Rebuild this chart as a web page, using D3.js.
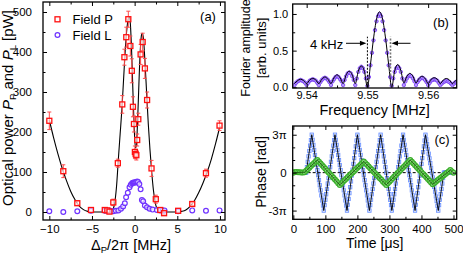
<!DOCTYPE html>
<html><head><meta charset="utf-8">
<script src="https://cdn.jsdelivr.net/npm/d3@7"></script>
<style>
body{margin:0;background:#fff}
text{font-family:"Liberation Sans",Arial,sans-serif}
</style></head><body>
<svg id="chart" width="463" height="255"></svg>
<script>
// ---------- Panel (a) data ----------
const fieldP_x   = [-10, -8.36, -6.72, -5.12, -3.5, -3.2, -2.95, -2.5, -1.97, -1.45, -1.2, -0.98, -0.74, -0.5, -0.33, -0.2, -0.08, 0.03, 0.12, 0.2, 0.3, 0.43, 0.7, 0.94, 1.2, 1.46, 1.98, 2.48, 3.0, 3.45, 5.1, 6.75, 8.36, 9.95];
const fieldP_y   = [228, 102, 22, 5, 5, 4, 1, 24, 122, 269, 387, 437, 482, 415, 353, 263, 220, 150, 145, 142, 180, 232, 394, 425, 359, 280, 109, 32, 5, -3, 3, 20, 97, 216];
const fieldP_err = [22, 16, 5, 4, 4, 3, 3, 8, 10, 22, 20, 25, 20, 25, 30, 25, 20, 15, 12, 12, 15, 15, 25, 22, 25, 20, 20, 10, 4, 4, 3, 4, 10, 12];
const fieldL_x = [-10, -8.36, -6.72, -5.12, -3.5, -3.2, -2.9, -2.5, -2.2, -1.9, -1.6, -1.35, -1.15, -1.0, -0.8, -0.6, -0.45, -0.3, -0.2, -0.1, 0.0, 0.1, 0.2, 0.3, 0.4, 0.55, 0.7, 0.85, 1.0, 1.2, 1.45, 1.75, 2.1, 2.6, 3.0, 3.3, 3.5, 5.1, 6.75, 8.36, 9.95];
const fieldL_y = [2, 0, 2, 3, 3, 4, 3, 2, 3, 4, 8, 14, 22, 37, 48, 62, 68, 72, 73, 74, 74, 74, 75, 76, 75, 70, 57, 30, 27, 16, 12, 8, 6, 5, 4, 4, 4, 2, 4, 3, 4];
const fitP_x = [-10, -9.5, -9, -8.5, -8, -7.5, -7, -6.5, -6, -5.5, -5, -4, -3, -2.7, -2.5, -2.3, -2.1, -1.9, -1.7, -1.5, -1.3, -1.1, -0.9, -0.75, -0.62, -0.5, -0.35, -0.2, -0.05, 0.1, 0.2, 0.35, 0.5, 0.65, 0.8, 0.9, 1.05, 1.2, 1.4, 1.6, 1.8, 2.0, 2.2, 2.4, 2.6, 2.8, 3.0, 4, 5, 5.5, 6, 6.5, 7, 7.5, 8, 8.5, 9, 9.5, 10];
const fitP_y = [230, 186, 146, 110, 79, 52, 31, 15, 6, 1.5, 0, 0, 0, 2, 8, 28, 70, 135, 195, 255, 330, 405, 460, 482, 488, 470, 400, 300, 210, 160, 165, 230, 320, 400, 442, 447, 430, 380, 300, 220, 155, 100, 55, 25, 9, 3, 0, 0, 0, 1.5, 5, 14, 28, 48, 72, 100, 133, 172, 215];
const aXTicks = [-10, -5, 0, 5, 10];
const aXMinor = [-7.5, -2.5, 2.5, 7.5];
const aYTicks = [0, 100, 200, 300, 400, 500];
const aYMinor = [50, 150, 250, 350, 450];

// ---------- Panel (b) data ----------
const fourierStart = 9.538, fourierStep = 0.00025;
const fourierAmp = [
 0.03,0.06,0.08,0.09,0.10,0.09,0.08,0.06,
 0.03,0.06,0.09,0.10,0.11,0.10,0.09,0.06,
 0.03,0.07,0.10,0.12,0.13,0.12,0.10,0.07,
 0.03,0.08,0.11,0.14,0.15,0.14,0.11,0.08,
 0.03,0.10,0.15,0.19,0.20,0.19,0.15,0.10,
 0.03,0.12,0.21,0.26,0.28,0.26,0.21,0.12,
 0.02,0.14,0.30,0.47,0.64,0.78,0.90,0.97,1.00,0.97,0.90,0.78,0.64,0.47,0.30,0.14,0.02,
 0.12,0.21,0.26,0.28,0.26,0.21,0.12,0.03,
 0.08,0.12,0.15,0.16,0.15,0.12,0.08,0.03,
 0.07,0.10,0.12,0.13,0.12,0.10,0.07,0.03,
 0.06,0.09,0.10,0.11,0.10,0.09,0.06,0.03,
 0.05,0.07,0.08,0.09,0.08,0.07,0.05,0.03,
 0.05,0.07,0.08,0.08];
const fitStart = 9.538, fitStep = 0.0005;
const fitAmp = [
 0.05,0.09,0.11,0.09, 0.05,0.10,0.12,0.10, 0.05,0.11,0.14,0.11, 0.05,0.13,0.17,0.13,
 0.05,0.17,0.22,0.17, 0.05,0.22,0.29,0.22,
 0.00,0.31,0.66,0.93,1.03,0.93,0.66,0.31,0.00,
 0.23,0.31,0.23,0.06, 0.15,0.19,0.15,0.06, 0.12,0.15,0.12,0.05, 0.11,0.13,0.11,0.05,
 0.10,0.12,0.10,0.05, 0.09,0.11];
const bXTicks = [9.54, 9.55, 9.56];
const bXMinor = [9.545, 9.555];
const bYTicks = [0, 0.5, 1.0];
const bYMinor = [0.25, 0.75];
const markerLeft = 9.5500, markerRight = 9.5538;

// ---------- Panel (c) data (phase in units of pi) ----------
const blueStart = 0, blueStep = 2.5;
const bluePhase = [
 0,0,0,0,0,0,0,0,0,0,0,0,0,0,0,0,0,
 0.43,0.86,1.29,1.71,2.14,2.57,3.00,
 2.6,2.2,1.8,1.4,1.0,0.6,0.2,-0.2,-0.6,-1.0,-1.4,-1.8,-2.2,-2.6,-3.0,
 -2.57,-2.14,-1.71,-1.29,-0.86,-0.43,0,0.43,0.86,1.29,1.71,2.14,2.57,3.0,
 2.6,2.2,1.8,1.4,1.0,0.6,0.2,-0.2,-0.6,-1.0,-1.4,-1.8,-2.2,-2.6,-3.0,
 -2.54,-2.08,-1.62,-1.15,-0.69,-0.23,0.23,0.69,1.15,1.62,2.08,2.54,3.0,
 2.6,2.2,1.8,1.4,1.0,0.6,0.2,-0.2,-0.6,-1.0,-1.4,-1.8,-2.2,-2.6,-3.0,
 -2.57,-2.14,-1.71,-1.29,-0.86,-0.43,0,0.43,0.86,1.29,1.71,2.14,2.57,3.0,
 2.57,2.14,1.71,1.29,0.86,0.43,0,-0.43,-0.86,-1.29,-1.71,-2.14,-2.57,-3.0,
 -2.57,-2.14,-1.71,-1.29,-0.86,-0.43,0,0.43,0.86,1.29,1.71,2.14,2.57,3.0,
 2.6,2.2,1.8,1.4,1.0,0.6,0.2,-0.2,-0.6,-1.0,-1.4,-1.8,-2.2,-2.6,-3.0,
 -2.54,-2.08,-1.62,-1.15,-0.69,-0.23,0.23,0.69,1.15,1.62,2.08,2.54,3.0,
 2.63,2.25,1.88,1.5,1.13,0.75,0.38,0,-0.38,-0.75,-1.13,-1.5,-1.88,-2.25,-2.63,-3.0,
 -2.57,-2.14,-1.71,-1.29,-0.86,-0.43,0,
 0,0,0,0,0,0,0,0,0,0,0,0];
const greenStart = 0, greenStep = 5;
const greenPhase = [
 0.0,0.05,0.06,0.04,0.03,0.02,0.02,0.03,
 0.15,0.27,0.39,0.52,0.64,0.76,0.88,1.0,
 0.86,0.72,0.58,0.44,0.30,0.16,0.02,-0.13,-0.27,-0.41,-0.55,-0.69,-0.83,-0.97,
 -0.85,-0.72,-0.60,-0.48,-0.35,-0.23,-0.11,0.02,0.14,0.26,0.39,0.51,0.63,0.76,0.88,
 0.75,0.62,0.48,0.35,0.22,0.09,-0.04,-0.18,-0.31,-0.44,-0.57,-0.71,-0.84,-0.97,
 -0.84,-0.71,-0.58,-0.44,-0.31,-0.18,-0.05,0.08,0.21,0.34,0.47,0.61,0.74,0.87,1.0,
 0.86,0.73,0.59,0.45,0.31,0.18,0.04,-0.10,-0.23,-0.37,-0.51,-0.65,-0.78,-0.92,
 -0.82,-0.72,-0.61,-0.51,-0.41,-0.31,-0.21,-0.10,0.0,0.10,0.2,
 0.1,0.0];
const blueLine_t = [0, 40, 57.5, 95, 130, 167.5, 200, 237.5, 272.5, 307.5, 342.5, 380, 412.5, 452.5, 470, 500];
const blueLine_v = [0, 0, 3, -3, 3, -3, 3, -3, 3, -3, 3, -3, 3, -3, 0, 0];
const greenLine_t = [0, 35, 75, 145, 220, 290, 365, 435, 490, 500];
const greenLine_v = [0, 0.03, 1, -0.97, 0.88, -0.97, 1, -0.92, 0.2, 0];
const cXTicks = [0, 100, 200, 300, 400, 500];
const cXMinor = [50, 150, 250, 350, 450];
const cYTicks = [-3, 0, 3];
const cYLabels = ["-3π", "0", "3π"];
const cYMinor = [-2, -1, 1, 2];

// ---------- drawing ----------
const svg = d3.select("#chart");
svg.append("rect").attr("width",463).attr("height",255).attr("fill","#fff");

function clean(fs){
  return function(sel){
    sel.select(".domain").remove();
    sel.attr("font-family",null).attr("font-size",fs);
    sel.selectAll("line").attr("stroke","#000").attr("stroke-width",1);
    sel.selectAll("text").attr("fill","#000");
  };
}
function axes(g, x, y, o){
  const [x0,x1]=x.range(), [y0,y1]=y.range();
  const c = clean(o.fs);
  g.append("g").attr("transform",`translate(0,${y0})`)
    .call(d3.axisBottom(x).tickValues(o.xMajor).tickSize(-4).tickPadding(o.xPad).tickFormat(o.xFmt)).call(c);
  g.append("g").attr("transform",`translate(0,${y0})`)
    .call(d3.axisBottom(x).tickValues(o.xMinor).tickSize(-2.5).tickFormat("")).call(c);
  g.append("g").attr("transform",`translate(0,${y1})`)
    .call(d3.axisTop(x).tickValues(o.xMajor).tickSize(-4).tickFormat("")).call(c);
  g.append("g").attr("transform",`translate(0,${y1})`)
    .call(d3.axisTop(x).tickValues(o.xMinor).tickSize(-2.5).tickFormat("")).call(c);
  g.append("g").attr("transform",`translate(${x0},0)`)
    .call(d3.axisLeft(y).tickValues(o.yMajor).tickSize(-4).tickPadding(o.yPad).tickFormat(o.yFmt)).call(c);
  g.append("g").attr("transform",`translate(${x0},0)`)
    .call(d3.axisLeft(y).tickValues(o.yMinor).tickSize(-2.5).tickFormat("")).call(c);
  g.append("g").attr("transform",`translate(${x1},0)`)
    .call(d3.axisRight(y).tickValues(o.yMajor).tickSize(-4).tickFormat("")).call(c);
  g.append("g").attr("transform",`translate(${x1},0)`)
    .call(d3.axisRight(y).tickValues(o.yMinor).tickSize(-2.5).tickFormat("")).call(c);
  g.append("rect").attr("x",x0).attr("y",y1).attr("width",x1-x0).attr("height",y0-y1)
    .attr("fill","none").attr("stroke","#000").attr("stroke-width",1.3);
}
function clip(id, x, y){
  const [x0,x1]=x.range(), [y0,y1]=y.range();
  svg.append("clipPath").attr("id",id).append("rect").attr("x",x0).attr("y",y1).attr("width",x1-x0).attr("height",y0-y1);
  return svg.append("g").attr("clip-path",`url(#${id})`);
}

// ===== Panel (a) =====
const ax = d3.scaleLinear().domain([-10.74,10.59]).range([43,225]);
const ay = d3.scaleLinear().domain([-20,525]).range([220,2]);
const ga = clip("ca", ax, ay);
ga.append("path").datum(fitP_x.map((v,i)=>[v,fitP_y[i]]))
  .attr("d", d3.line().x(d=>ax(d[0])).y(d=>ay(d[1])).curve(d3.curveMonotoneX))
  .attr("fill","none").attr("stroke","#000").attr("stroke-width",1.1);
const Pdata = fieldP_x.map((v,i)=>({x:v,y:fieldP_y[i],e:fieldP_err[i]}));
const eb = ga.append("g").attr("stroke","#ff4a4a").attr("stroke-width",1);
Pdata.forEach(d=>{
  eb.append("line").attr("x1",ax(d.x)).attr("x2",ax(d.x)).attr("y1",ay(d.y-d.e)).attr("y2",ay(d.y+d.e));
  [d.y-d.e,d.y+d.e].forEach(v=>eb.append("line").attr("x1",ax(d.x)-2).attr("x2",ax(d.x)+2).attr("y1",ay(v)).attr("y2",ay(v)));
});
ga.append("g").selectAll("circle").data(fieldL_x.map((v,i)=>[v,fieldL_y[i]])).join("circle")
  .attr("cx",d=>ax(d[0])).attr("cy",d=>ay(d[1])).attr("r",2.4)
  .attr("fill","#fff").attr("fill-opacity",0.6).attr("stroke","#6f33ff").attr("stroke-width",1.2);
ga.append("g").selectAll("rect").data(Pdata).join("rect")
  .attr("x",d=>ax(d.x)-2.5).attr("y",d=>ay(d.y)-2.5).attr("width",5).attr("height",5)
  .attr("fill","#fff").attr("fill-opacity",0.6).attr("stroke","#ff1010").attr("stroke-width",1.3);
axes(svg.append("g"), ax, ay, {fs:11.5,xMajor:aXTicks,xMinor:aXMinor,yMajor:aYTicks,yMinor:aYMinor,xPad:5,yPad:11,xFmt:d3.format("d"),yFmt:d3.format("d")});
// legend
svg.append("rect").attr("x",55).attr("y",16.8).attr("width",5).attr("height",5).attr("fill","#fff").attr("stroke","#ff1010").attr("stroke-width",1.3);
svg.append("circle").attr("cx",57.5).attr("cy",35).attr("r",2.4).attr("fill","#fff").attr("stroke","#6f33ff").attr("stroke-width",1.2);
svg.append("text").attr("x",72.5).attr("y",23.5).attr("font-size",13).text("Field P");
svg.append("text").attr("x",72.5).attr("y",39.5).attr("font-size",13).text("Field L");
svg.append("text").attr("x",208).attr("y",21).attr("font-size",13).attr("text-anchor","middle").text("(a)");
// titles
const atx = svg.append("text").attr("x",131).attr("y",249.5).attr("font-size",14.5).attr("text-anchor","middle");
atx.append("tspan").text("Δ");
atx.append("tspan").attr("dy",3).attr("font-size",9.5).text("P");
atx.append("tspan").attr("dy",-3).text("/2π [MHz]");
const aty = svg.append("text").attr("transform","translate(12.5,108) rotate(-90)").attr("font-size",15).attr("text-anchor","middle");
aty.append("tspan").text("Optical power ");
aty.append("tspan").attr("font-style","italic").text("P");
aty.append("tspan").attr("dy",3).attr("font-size",9.5).text("P");
aty.append("tspan").attr("dy",-3).text(" and ");
aty.append("tspan").attr("font-style","italic").text("P");
aty.append("tspan").attr("dy",3).attr("font-size",9.5).text("L");
aty.append("tspan").attr("dy",-3).text(" [pW]");

// ===== Panel (b) =====
const bx = d3.scaleLinear().domain([9.5377,9.5647]).range([292.7,456.7]);
const by = d3.scaleLinear().domain([-0.01,1.136]).range([88,4]);
const gb = clip("cb", bx, by);
gb.append("g").selectAll("circle").data(fourierAmp).join("circle")
  .attr("cx",(d,i)=>bx(fourierStart+i*fourierStep)).attr("cy",d=>by(d)).attr("r",1.7)
  .attr("fill","#b89cff").attr("stroke","#7233f2").attr("stroke-width",0.8);
gb.append("path").datum(fitAmp)
  .attr("d", d3.line().x((d,i)=>bx(fitStart+i*fitStep)).y(d=>by(d)).curve(d3.curveMonotoneX))
  .attr("fill","none").attr("stroke","#000").attr("stroke-width",1);
gb.append("line").attr("x1",bx(markerLeft)).attr("x2",bx(markerLeft)).attr("y1",by(0)).attr("y2",by(0.69))
  .attr("stroke","#000").attr("stroke-width",1).attr("stroke-dasharray","2,1.5");
gb.append("line").attr("x1",bx(markerRight)).attr("x2",bx(markerRight)).attr("y1",by(0.16)).attr("y2",by(0.69))
  .attr("stroke","#777").attr("stroke-width",1.6).attr("stroke-dasharray","2,1.5");
axes(svg.append("g"), bx, by, {fs:11,xMajor:bXTicks,xMinor:bXMinor,yMajor:bYTicks,yMinor:bYMinor,xPad:3,yPad:4.5,xFmt:d3.format(".2f"),yFmt:d3.format(".1f")});
// arrows
const ya = by(0.6);
svg.append("line").attr("x1",346).attr("x2",361).attr("y1",ya).attr("y2",ya).attr("stroke","#000").attr("stroke-width",1);
svg.append("path").attr("d",`M${bx(markerLeft)-1},${ya} l-6.5,-2.5 l0,5 z`).attr("fill","#000");
svg.append("line").attr("x1",410.5).attr("x2",397).attr("y1",ya).attr("y2",ya).attr("stroke","#000").attr("stroke-width",1);
svg.append("path").attr("d",`M${bx(markerRight)+1},${ya} l6.5,-2.5 l0,5 z`).attr("fill","#000");
svg.append("text").attr("x",310).attr("y",48.5).attr("font-size",13).text("4 kHz");
svg.append("text").attr("x",441).attr("y",27).attr("font-size",13).attr("text-anchor","middle").text("(b)");
svg.append("text").attr("x",374.7).attr("y",115).attr("font-size",14.5).attr("text-anchor","middle").text("Frequency [MHz]");
svg.append("text").attr("transform","translate(250,48) rotate(-90)").attr("font-size",12.5).attr("text-anchor","middle").text("Fourier amplitude");
svg.append("text").attr("transform","translate(266,48) rotate(-90)").attr("font-size",13).attr("text-anchor","middle").text("[arb. units]");

// ===== Panel (c) =====
const cx = d3.scaleLinear().domain([-2,510]).range([292.7,456.7]);
const cy = d3.scaleLinear().domain([-3.69,3.69]).range([219.3,126]);
const gc = clip("cc", cx, cy);
gc.append("line").attr("x1",cx.range()[0]).attr("x2",cx.range()[1]).attr("y1",cy(0)).attr("y2",cy(0))
  .attr("stroke","#000").attr("stroke-width",1).attr("stroke-dasharray","3,2");
gc.append("g").selectAll("rect").data(bluePhase).join("rect")
  .attr("x",(d,i)=>cx(blueStart+i*blueStep)-1.7).attr("y",d=>cy(d)-1.7).attr("width",3.4).attr("height",3.4)
  .attr("fill","#c2d3ff").attr("fill-opacity",0.6).attr("stroke","#4f7bff").attr("stroke-width",0.8).attr("stroke-opacity",0.85);
gc.append("path").datum(blueLine_t.map((t,i)=>[t,blueLine_v[i]]))
  .attr("d", d3.line().x(d=>cx(d[0])).y(d=>cy(d[1])))
  .attr("fill","none").attr("stroke","#000").attr("stroke-width",0.9);
gc.append("g").selectAll("circle").data(greenPhase).join("circle")
  .attr("cx",(d,i)=>cx(greenStart+i*greenStep)).attr("cy",d=>cy(d)).attr("r",2.4)
  .attr("fill","#a6e39a").attr("fill-opacity",0.8).attr("stroke","#3aae2a").attr("stroke-width",1.2);
gc.append("path").datum(greenLine_t.map((t,i)=>[t,greenLine_v[i]]))
  .attr("d", d3.line().x(d=>cx(d[0])).y(d=>cy(d[1])))
  .attr("fill","none").attr("stroke","#1f5a12").attr("stroke-width",0.9);
axes(svg.append("g"), cx, cy, {fs:11.5,xMajor:cXTicks,xMinor:cXMinor,yMajor:cYTicks,yMinor:cYMinor,xPad:5.5,yPad:6,xFmt:d3.format("d"),yFmt:(d,i)=>cYLabels[cYTicks.indexOf(d)]});
svg.append("text").attr("x",442).attr("y",144).attr("font-size",13).attr("text-anchor","middle").text("(c)");
svg.append("text").attr("x",374.7).attr("y",248).attr("font-size",14).attr("text-anchor","middle").text("Time [μs]");
svg.append("text").attr("transform","translate(266,172) rotate(-90)").attr("font-size",14).attr("text-anchor","middle").text("Phase [rad]");
</script></body></html>
